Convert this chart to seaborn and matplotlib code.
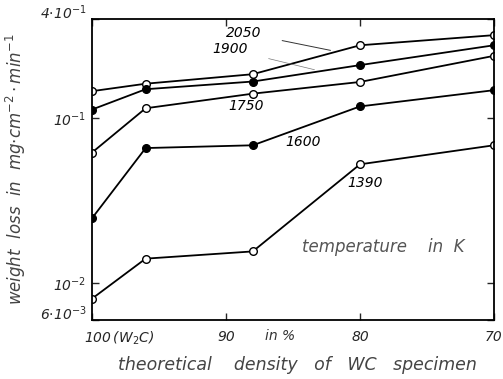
import numpy as np
import pandas as pd
import matplotlib
matplotlib.use("Agg")
import matplotlib.pyplot as plt
import matplotlib.transforms as mtrans
import seaborn as sns

density = [100, 96, 88, 80, 70]
temps = ["2050", "1900", "1750", "1600", "1390"]
loss_2050 = [0.146, 0.162, 0.185, 0.277, 0.319]
loss_1900 = [0.113, 0.150, 0.167, 0.210, 0.277]
loss_1750 = [0.062, 0.115, 0.141, 0.166, 0.239]
loss_1600 = [0.0248, 0.066, 0.0686, 0.118, 0.148]
loss_1390 = [0.00807, 0.0141, 0.0156, 0.0526, 0.0686]
filled = {"2050": False, "1900": True, "1750": False, "1600": True, "1390": False}

series = {"2050": loss_2050, "1900": loss_1900, "1750": loss_1750,
          "1600": loss_1600, "1390": loss_1390}
df = pd.concat([pd.DataFrame({"density": density, "loss": v, "T": k})
                for k, v in series.items()], ignore_index=True)

sns.set_style("ticks")
plt.rcParams['font.family'] = ['DejaVu Sans']

fig = plt.figure(figsize=(5.03, 3.79), dpi=100)
ax = fig.add_axes([0.183, 0.156, 0.799, 0.794])

for t in temps:
    sub = df[df["T"] == t]
    sns.lineplot(data=sub, x="density", y="loss", ax=ax, color="black",
                 linewidth=1.3, marker="o", markersize=5.5,
                 markerfacecolor="black" if filled[t] else "white",
                 markeredgecolor="black", markeredgewidth=1.0, legend=False)

ax.set_yscale("log")
ax.set_xlim(100, 70)
ax.set_ylim(0.006, 0.4)

ax.set_xticks([100, 90, 80, 70])
ax.set_xticklabels(["100$\\,$(W$_2$C)", "90", "80", "70"], fontstyle="italic", fontsize=10)
ax.set_yticks([0.006, 0.01, 0.1, 0.4])
ax.set_yticklabels(["6$\\cdot$10$^{-3}$", "10$^{-2}$", "10$^{-1}$", "4$\\cdot$10$^{-1}$"],
                   fontstyle="italic", fontsize=10)
ax.yaxis.set_minor_locator(matplotlib.ticker.NullLocator())
ax.tick_params(direction="in", top=True, right=True, length=5, width=1, pad=4)
ax.tick_params(axis="x", pad=7)
for s in ax.spines.values():
    s.set_linewidth(1.3)
    s.set_color("black")

# shift first x label right, bottom/top y labels
xl = ax.get_xticklabels()
xl[0].set_transform(xl[0].get_transform() + mtrans.ScaledTranslation(0.27, 0, fig.dpi_scale_trans))
yl = ax.get_yticklabels()
yl[0].set_va("bottom")
yl[0].set_transform(yl[0].get_transform() + mtrans.ScaledTranslation(0, -0.03, fig.dpi_scale_trans))
yl[-1].set_va("bottom")
yl[-1].set_transform(yl[-1].get_transform() + mtrans.ScaledTranslation(0, -0.03, fig.dpi_scale_trans))

ax.set_xlabel("theoretical    density   of   WC   specimen", fontstyle="italic",
              fontsize=12.5, color="#444444")
ax.xaxis.set_label_coords(0.51, -0.12)
ax.set_ylabel("weight  loss  in  mg$\\cdot$cm$^{-2}\\cdot$min$^{-1}$", fontstyle="italic",
              fontsize=12, color="#444444")
ax.yaxis.set_label_coords(-0.16, 0.5)

ax.text(86.0, 0.0048, "in %", fontstyle="italic",
        fontsize=10, ha="center", va="center", color="#333333")

lab = dict(fontstyle="italic", fontsize=10, color="black", ha="center", va="center")
ax.annotate("2050", xy=(82.2, 0.258), xytext=(88.7, 0.33), arrowprops=dict(arrowstyle="-", lw=0.7, color="#333333", shrinkA=13, shrinkB=0), **lab)
ax.annotate("1900", xy=(83.4, 0.197), xytext=(89.7, 0.262), arrowprops=dict(arrowstyle="-", lw=0.5, color="#777777", shrinkA=13, shrinkB=0), **lab)
ax.text(88.5, 0.118, "1750", **lab)
ax.text(84.25, 0.0716, "1600", **lab)
ax.text(79.6, 0.0404, "1390", **lab)
ax.text(78.3, 0.0165, "temperature    in  K", fontstyle="italic", fontsize=12,
        color="#555555", ha="center", va="center")

fig.savefig("out.png", dpi=100)
